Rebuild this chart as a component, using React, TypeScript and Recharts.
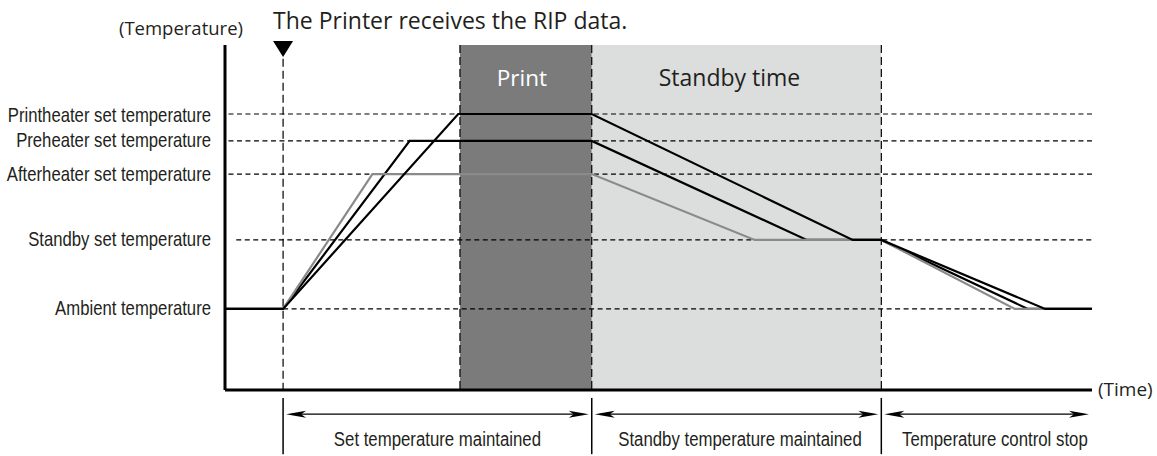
import React from 'react';
import { ComposedChart, Line, XAxis, YAxis, ReferenceLine, ReferenceArea, ReferenceDot } from 'recharts';

// Temperature levels (relative scale 0-100)
const levelNames = [
  'Ambient temperature',
  'Standby set temperature',
  'Afterheater set temperature',
  'Preheater set temperature',
  'Printheater set temperature',
];
const levelValues = [23.5, 43.5, 62.6, 72.2, 80];

// Time events (relative scale 0-100)
const ripTime = 6.7;
const printStart = 27.1;
const printEnd = 42.3;
const standbyEnd = 75.7;

// Heater curves
const preheaterTime = [0, 6.7, 21.3, 42.3, 67.1, 75.7, 92.6, 100];
const preheaterTemp = [23.5, 23.5, 72.2, 72.2, 43.5, 43.5, 23.5, 23.5];
const afterheaterTime = [0, 6.7, 17.0, 42.3, 61.1, 75.7, 91.1, 100];
const afterheaterTemp = [23.5, 23.5, 62.6, 62.6, 43.5, 43.5, 23.5, 23.5];
const printheaterTime = [0, 6.7, 26.9, 42.3, 72.4, 75.7, 94.6, 100];
const printheaterTemp = [23.5, 23.5, 80, 80, 43.5, 43.5, 23.5, 23.5];

// Phases along the time axis
const phaseBounds = [6.7, 42.3, 75.7, 100];
const phaseLabels = ['Set temperature maintained', 'Standby temperature maintained', 'Temperature control stop'];
const phaseLabelTimes = [24.5, 59.4, 88.8];

// styling helpers (not data)
const gridStart = [6.7, 1.3, 0.4, 0.4, 0.4];
const labelShift = [6, 6, 7, 6, 8];

const toPoints = (ts: number[], vs: number[]) => ts.map((t, i) => ({ t, v: vs[i] }));
const preheater = toPoints(preheaterTime, preheaterTemp);
const afterheater = toPoints(afterheaterTime, afterheaterTemp);
const printheater = toPoints(printheaterTime, printheaterTemp);

const TEXT = '#231f20';
const COND = 'Liberation Sans, Arial, sans-serif';
const SANS = 'Open Sans, sans-serif';

const YTick = (props: any) => {
  const { x, y, payload } = props;
  const i = levelValues.indexOf(payload.value);
  return (
    <text
      transform={`translate(${x},${y + labelShift[i]}) scale(0.795,1)`}
      textAnchor="end"
      fontFamily={COND}
      fontSize={21}
      fill={TEXT}
    >
      {levelNames[i]}
    </text>
  );
};

const XTick = (props: any) => {
  const { x, y, payload } = props;
  const i = phaseLabelTimes.indexOf(payload.value);
  return (
    <text
      transform={`translate(${x},${y + 56}) scale(0.8,1)`}
      textAnchor="middle"
      fontFamily={COND}
      fontSize={21}
      fill={TEXT}
    >
      {phaseLabels[i]}
    </text>
  );
};

const TimeLabel = (props: any) => {
  const vb = props.viewBox;
  return (
    <text x={vb.x + vb.width + 6} y={vb.y + 6} fontFamily={SANS} fontSize={19} fill={TEXT}>
      (Time)
    </text>
  );
};

const TempLabel = (props: any) => {
  const vb = props.viewBox;
  return (
    <text x={vb.x + vb.width + 18} y={vb.y - 10} textAnchor="end" fontFamily={SANS} fontSize={18.5} fill={TEXT}>
      (Temperature)
    </text>
  );
};

const PrintLabel = (props: any) => {
  const vb = props.viewBox;
  return (
    <text x={vb.x + vb.width / 2 - 4} y={vb.y + 41} textAnchor="middle" fontFamily={SANS} fontSize={22.5} fill="#fff">
      Print
    </text>
  );
};

const StandbyLabel = (props: any) => {
  const vb = props.viewBox;
  return (
    <text x={vb.x + vb.width / 2 - 7} y={vb.y + 41} textAnchor="middle" fontFamily={SANS} fontSize={23} fill={TEXT}>
      Standby time
    </text>
  );
};

const RipMarker = (props: any) => {
  const { cx, cy } = props;
  return (
    <g>
      <text x={cx - 10} y={cy - 16} fontFamily={SANS} fontSize={23} fill={TEXT}>
        The Printer receives the RIP data.
      </text>
      <path d={`M${cx - 10},${cy - 4} L${cx + 10},${cy - 4} L${cx},${cy + 12} Z`} fill="#000" />
    </g>
  );
};

const ArrowShape = (p: any) => {
  const y = p.y1;
  const a = Math.min(p.x1, p.x2) + 3;
  const b = Math.max(p.x1, p.x2) - 3;
  return (
    <g>
      <line x1={a + 6} y1={y} x2={b - 6} y2={y} stroke="#000" strokeWidth={1.2} />
      <path d={`M${a},${y} L${a + 20},${y - 3.5} L${a + 15},${y} L${a + 20},${y + 3.5} Z`} fill="#000" />
      <path d={`M${b},${y} L${b - 20},${y - 3.5} L${b - 15},${y} L${b - 20},${y + 3.5} Z`} fill="#000" />
    </g>
  );
};

export default function App() {
  return (
    <div style={{ position: 'absolute', left: 0, top: 0, width: 1157, height: 456, background: '#fff' }}>
      <ComposedChart width={1157} height={456} margin={{ top: 45, right: 65, bottom: 0, left: 0 }}>
        <ReferenceArea x1={printStart} x2={printEnd} y1={0} y2={100} fill="#7b7b7b" fillOpacity={1} stroke="none" label={PrintLabel} />
        <ReferenceArea x1={printEnd} x2={standbyEnd} y1={0} y2={100} fill="#dcdddd" fillOpacity={1} stroke="none" label={StandbyLabel} />
        <XAxis
          type="number"
          dataKey="t"
          domain={[0, 100]}
          ticks={phaseLabelTimes}
          interval={0}
          tickLine={false}
          tickSize={0}
          tickMargin={0}
          height={66}
          axisLine={{ stroke: '#000', strokeWidth: 3 }}
          tick={<XTick />}
          label={TimeLabel}
        />
        <YAxis
          type="number"
          domain={[0, 100]}
          ticks={levelValues}
          interval={0}
          tickLine={false}
          tickSize={0}
          tickMargin={14}
          width={225}
          axisLine={{ stroke: '#000', strokeWidth: 3 }}
          tick={<YTick />}
          label={TempLabel}
        />
        {levelValues.map((v, i) => (
          <ReferenceLine
            key={`g${i}`}
            segment={[{ x: gridStart[i], y: v }, { x: 100, y: v }]}
            stroke="#000"
            strokeWidth={1.2}
            strokeDasharray="5 3.5"
          />
        ))}
        {[printStart, printEnd, standbyEnd].map((t, i) => (
          <ReferenceLine
            key={`v${i}`}
            segment={[{ x: t, y: 100 }, { x: t, y: 0 }]}
            stroke="#000"
            strokeWidth={1.2}
            strokeDasharray="8 4"
          />
        ))}
        <ReferenceLine segment={[{ x: ripTime, y: 96 }, { x: ripTime, y: 0 }]} stroke="#000" strokeWidth={1.2} strokeDasharray="8 4" />
        {phaseBounds.slice(0, 3).map((t, i) => (
          <ReferenceLine
            key={`s${i}`}
            segment={[{ x: t, y: -2.3 }, { x: t, y: -18.6 }]}
            ifOverflow="visible"
            stroke="#000"
            strokeWidth={1.5}
          />
        ))}
        {phaseLabels.map((_, i) => (
          <ReferenceLine
            key={`a${i}`}
            segment={[{ x: phaseBounds[i], y: -7 }, { x: phaseBounds[i + 1], y: -7 }]}
            ifOverflow="visible"
            shape={ArrowShape}
          />
        ))}
        <ReferenceDot x={ripTime} y={100} ifOverflow="visible" shape={RipMarker} />
        <Line data={preheater} dataKey="v" type="linear" stroke="#000" strokeWidth={2.2} dot={false} isAnimationActive={false} />
        <Line data={afterheater} dataKey="v" type="linear" stroke="#8a8a8a" strokeWidth={2.2} dot={false} isAnimationActive={false} />
        <Line data={printheater} dataKey="v" type="linear" stroke="#000" strokeWidth={2.2} dot={false} isAnimationActive={false} />
      </ComposedChart>
    </div>
  );
}
